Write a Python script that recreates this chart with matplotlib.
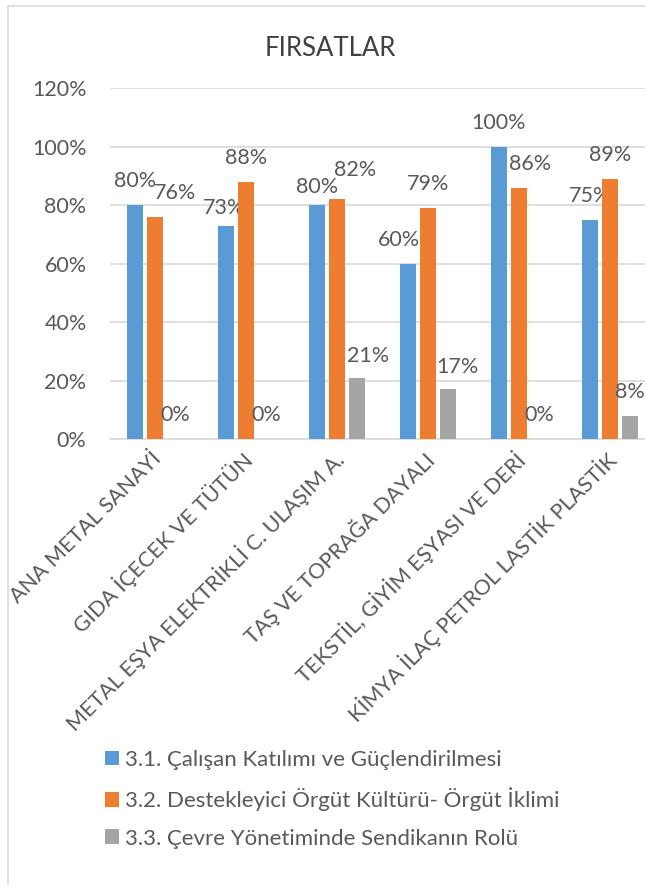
import matplotlib
matplotlib.use('Agg')
import matplotlib.pyplot as plt
import matplotlib.transforms as mtransforms
from matplotlib.patches import Patch, Rectangle
import numpy as np

plt.rcParams['font.family'] = ['Lato', 'DejaVu Sans']

categories = ['ANA METAL SANAYİ', 'GIDA İÇECEK VE TÜTÜN', 'METAL EŞYA ELEKTRİKLİ C. ULAŞIM A.',
              'TAŞ VE TOPRAĞA DAYALI', 'TEKSTİL, GİYİM EŞYASI VE DERİ', 'KİMYA İLAÇ PETROL LASTİK PLASTİK']
series_names = ['3.1. Çalışan Katılımı ve Güçlendirilmesi',
                '3.2. Destekleyici Örgüt Kültürü- Örgüt İklimi',
                '3.3. Çevre Yönetiminde Sendikanın Rolü']
calisan = [0.80, 0.73, 0.80, 0.60, 1.00, 0.75]
destek = [0.76, 0.88, 0.82, 0.79, 0.86, 0.89]
cevre = [0.00, 0.00, 0.21, 0.17, 0.00, 0.08]
yticks = [0, 0.2, 0.4, 0.6, 0.8, 1.0, 1.2]

colors = ['#5B9BD5', '#ED7D31', '#A5A5A5']
text_color = '#595959'
grid_color = '#D9D9D9'

# label nudges in pixels (series, group) -> (dx, dy), as placed in the original
nudges = {(0, 1): (-2, -6), (0, 2): (0, -6), (0, 3): (-9, 0),
          (1, 0): (20, 0), (1, 2): (18, 5), (1, 4): (11, 0),
          (2, 2): (11, -2), (2, 3): (9, -2)}

W, H = 645, 885
fig = plt.figure(figsize=(W / 100, H / 100), dpi=100)
ax = fig.add_axes([109.5 / W, (H - 439) / H, 546 / W, 350.7 / H])

x = np.arange(len(categories))
bar_w = 0.176
step = 0.22
all_vals = [calisan, destek, cevre]
for s, vals in enumerate(all_vals):
    pos = x + (s - 1) * step
    ax.bar(pos, vals, width=bar_w, color=colors[s], zorder=3)
    for g, v in enumerate(vals):
        dx, dy = nudges.get((s, g), (0, 0))
        ax.annotate('{:.0f}%'.format(v * 100), (pos[g], v),
                    xytext=(dx * 0.72, (24 + dy) * 0.72), textcoords='offset points',
                    ha='center', va='center', fontsize=15.5, color=text_color)

ax.set_ylim(0, 1.2)
ax.set_xlim(-0.5, len(categories) - 0.5)
ax.set_yticks(yticks)
ax.set_yticklabels(['{:.0f}%'.format(t * 100) for t in yticks])
ax.yaxis.grid(True, color=grid_color, lw=1.2, zorder=0)
ax.tick_params(axis='y', length=0, pad=16.5, labelsize=15.5, labelcolor=text_color)
ax.tick_params(axis='x', length=0)
for sp in ['top', 'right', 'left']:
    ax.spines[sp].set_visible(False)
ax.spines['bottom'].set_color(grid_color)
ax.spines['bottom'].set_linewidth(1.2)
ax.set_xticks(x)
ax.set_xticklabels([])

# rotated category labels
offset = mtransforms.ScaledTranslation(3 / 100, -17 / 100, fig.dpi_scale_trans)
trans = mtransforms.blended_transform_factory(ax.transData, ax.transAxes) + offset
for i, c in enumerate(categories):
    ax.text(i, 0, c, transform=trans, rotation=45, rotation_mode='anchor',
            ha='right', va='center', fontsize=15.5, color=text_color)

fig.text(330 / W, 1 - 48 / H, 'FIRSATLAR', ha='center', va='center', fontsize=18.5, color='#404040')

handles = [Patch(facecolor=c, edgecolor='none') for c in colors]
fig.legend(handles, series_names, loc='upper left', bbox_to_anchor=(105 / W, 1 - 750 / H),
           frameon=False, fontsize=16, handlelength=0.62, handleheight=0.62, handletextpad=0.3,
           labelspacing=0.78, borderpad=0, borderaxespad=0, labelcolor=text_color)

fig.patches.append(Rectangle((8 / W, -0.1), 1.2, 1.1 - 6 / H, transform=fig.transFigure,
                             fill=False, edgecolor=grid_color, lw=1.2))

fig.savefig('out.png', dpi=100)
